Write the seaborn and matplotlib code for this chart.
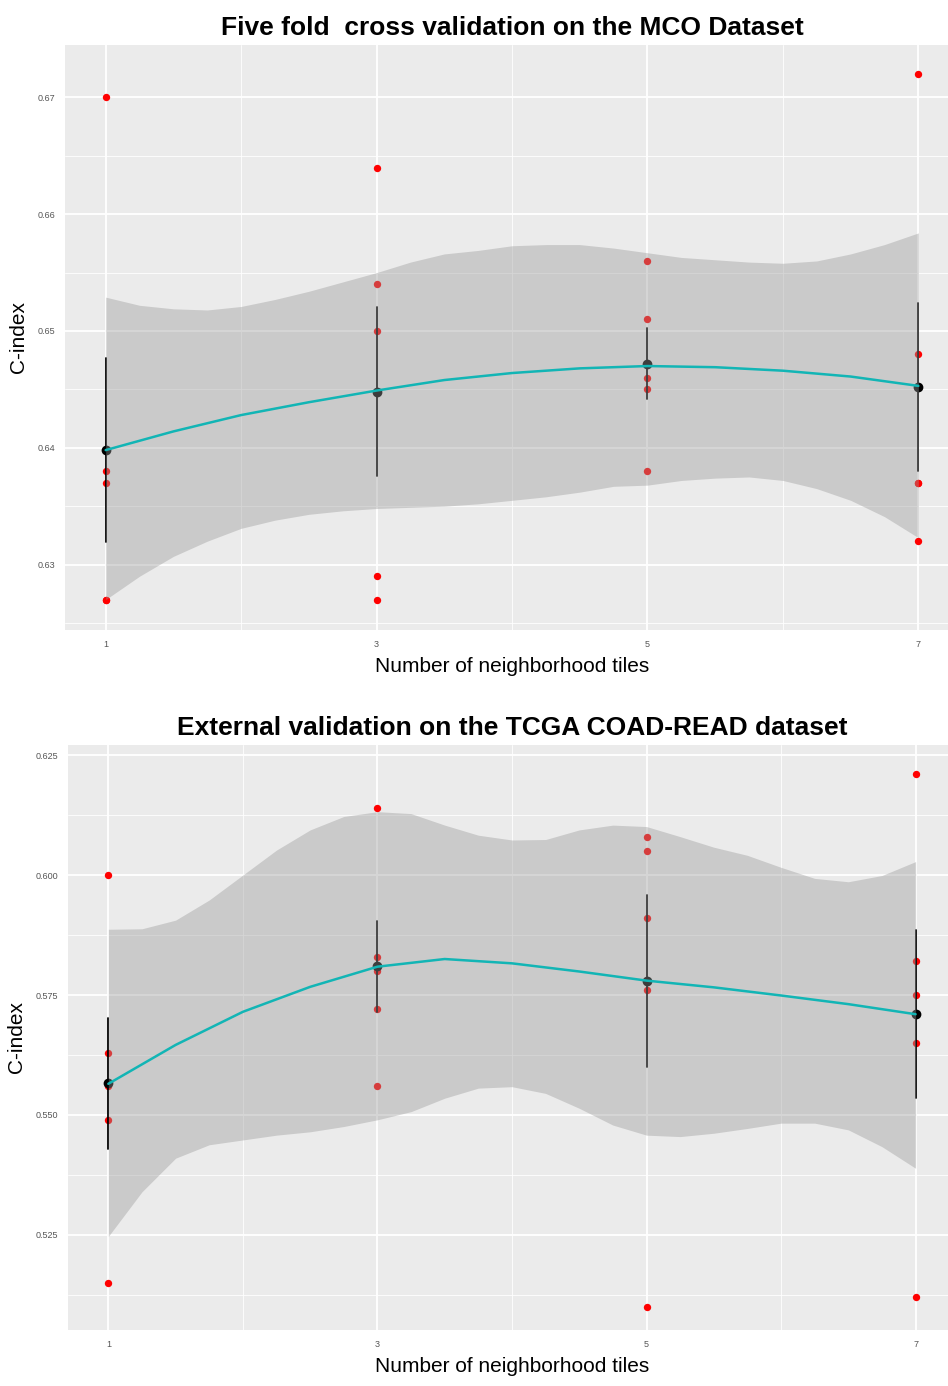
import numpy as np
import pandas as pd
import matplotlib
matplotlib.use("Agg")
import matplotlib.pyplot as plt
import seaborn as sns

# five C-index values per number of neighbourhood tiles
tiles = [1, 3, 5, 7]
mco_cindex = {
    1: [0.670, 0.638, 0.637, 0.627, 0.627],
    3: [0.664, 0.654, 0.650, 0.629, 0.627],
    5: [0.656, 0.651, 0.646, 0.645, 0.638],
    7: [0.672, 0.648, 0.637, 0.637, 0.632],
}
tcga_cindex = {
    1: [0.600, 0.563, 0.556, 0.549, 0.515],
    3: [0.614, 0.583, 0.580, 0.572, 0.556],
    5: [0.608, 0.605, 0.591, 0.576, 0.510],
    7: [0.621, 0.582, 0.575, 0.565, 0.512],
}

# smoother (fit every 0.5, band every 0.25)
fit_x = [1, 1.5, 2, 2.5, 3, 3.5, 4, 4.5, 5, 5.5, 6, 6.5, 7]
band_x = [1, 1.25, 1.5, 1.75, 2, 2.25, 2.5, 2.75, 3, 3.25, 3.5, 3.75, 4,
          4.25, 4.5, 4.75, 5, 5.25, 5.5, 5.75, 6, 6.25, 6.5, 6.75, 7]

mco_fit = [0.6398, 0.6414, 0.6428, 0.6439, 0.6449, 0.6458, 0.6464,
           0.6468, 0.6470, 0.6469, 0.6466, 0.6461, 0.6453]
mco_upper = [0.6529, 0.6522, 0.6519, 0.6518, 0.6521, 0.6527, 0.6534, 0.6542,
             0.6550, 0.6559, 0.6566, 0.6569, 0.6573, 0.6574, 0.6574, 0.6571,
             0.6567, 0.6563, 0.6561, 0.6559, 0.6558, 0.6560, 0.6566, 0.6574, 0.6584]
mco_lower = [0.6270, 0.6290, 0.6307, 0.6320, 0.6331, 0.6338, 0.6343, 0.6346,
             0.6348, 0.6349, 0.6350, 0.6352, 0.6355, 0.6358, 0.6362, 0.6367,
             0.6368, 0.6372, 0.6374, 0.6375, 0.6372, 0.6365, 0.6355, 0.6341, 0.6323]

tcga_fit = [0.5565, 0.5646, 0.5715, 0.5767, 0.5809, 0.5825, 0.5816,
            0.5799, 0.5780, 0.5766, 0.5749, 0.5731, 0.5710]
tcga_upper = [0.5887, 0.5888, 0.5906, 0.5948, 0.6000, 0.6052, 0.6094, 0.6122,
              0.6132, 0.6128, 0.6104, 0.6083, 0.6073, 0.6074, 0.6094, 0.6104,
              0.6101, 0.6080, 0.6058, 0.6041, 0.6016, 0.5993, 0.5986, 0.5999, 0.6028]
tcga_lower = [0.5247, 0.5340, 0.5410, 0.5438, 0.5448, 0.5458, 0.5465, 0.5476,
              0.5490, 0.5507, 0.5535, 0.5556, 0.5559, 0.5545, 0.5514, 0.5479,
              0.5458, 0.5455, 0.5462, 0.5472, 0.5483, 0.5483, 0.5469, 0.5434, 0.5389]

mco_yticks = [0.63, 0.64, 0.65, 0.66, 0.67]
tcga_yticks = [0.525, 0.550, 0.575, 0.600, 0.625]


def to_long(values):
    rows = []
    for t in tiles:
        for v in values[t]:
            rows.append({"tiles": t, "cindex": v})
    return pd.DataFrame(rows)


sns.set_theme(style="darkgrid", rc={
    "axes.facecolor": "#EBEBEB",
    "grid.color": "white",
    "axes.edgecolor": "#EBEBEB",
    "text.color": "black",
    "axes.labelcolor": "black",
})
plt.rcParams["font.family"] = ["Liberation Sans", "DejaVu Sans"]


def draw_panel(ax, values, fit, upper, lower, yticks, fmt, ylim, title):
    df = to_long(values)
    sns.scatterplot(data=df, x="tiles", y="cindex", color="red", s=28,
                    linewidth=0, ax=ax, zorder=2)
    sns.pointplot(data=df, x="tiles", y="cindex", native_scale=True,
                  errorbar="se", color="black", linestyle="none",
                  markersize=5, err_kws={"linewidth": 1.3}, ax=ax)
    ax.fill_between(band_x, lower, upper, color="#999999", alpha=0.4,
                    linewidth=0, zorder=3)
    sns.lineplot(x=fit_x, y=fit, color="#12B5B5", linewidth=1.8, ax=ax,
                 zorder=4)

    ax.set_xticks(tiles)
    ax.set_xticks([2, 4, 6], minor=True)
    ax.set_xticklabels([str(t) for t in tiles])
    step = yticks[1] - yticks[0]
    ax.set_yticks(yticks)
    ax.set_yticks([y - step / 2 for y in yticks] + [yticks[-1] + step / 2],
                  minor=True)
    ax.set_yticklabels([fmt.format(y) for y in yticks])
    # limits after the ticks, so the minor ticks do not widen the view
    ax.set_xlim(0.7, 7.3)
    ax.set_ylim(*ylim)
    ax.grid(which="major", color="white", linewidth=1.3)
    ax.grid(which="minor", color="white", linewidth=0.6)
    ax.set_axisbelow(True)
    ax.tick_params(which="major", length=4, width=0.8, color="#333333",
                   labelsize=6.5, labelcolor="#555555", pad=3)
    ax.tick_params(which="minor", length=0)
    for s in ax.spines.values():
        s.set_visible(False)
    ax.set_xlabel("Number of neighborhood tiles", fontsize=15, labelpad=6)
    ax.set_ylabel("C-index", fontsize=15, labelpad=7)
    ax.set_title(title, fontsize=19, fontweight="bold", pad=7)


fig = plt.figure(figsize=(9.48, 13.86), dpi=100)
ax1 = fig.add_axes([0.0686, 0.5455, 0.943, 0.4221])
ax2 = fig.add_axes([0.0717, 0.0404, 0.9367, 0.4221])

draw_panel(ax1, mco_cindex, mco_fit, mco_upper, mco_lower, mco_yticks,
           "{:.2f}", (0.6244, 0.6745),
           "Five fold  cross validation on the MCO Dataset")
draw_panel(ax2, tcga_cindex, tcga_fit, tcga_upper, tcga_lower, tcga_yticks,
           "{:.3f}", (0.5052, 0.6271),
           "External validation on the TCGA COAD-READ dataset")

fig.savefig("out.png", dpi=100)
